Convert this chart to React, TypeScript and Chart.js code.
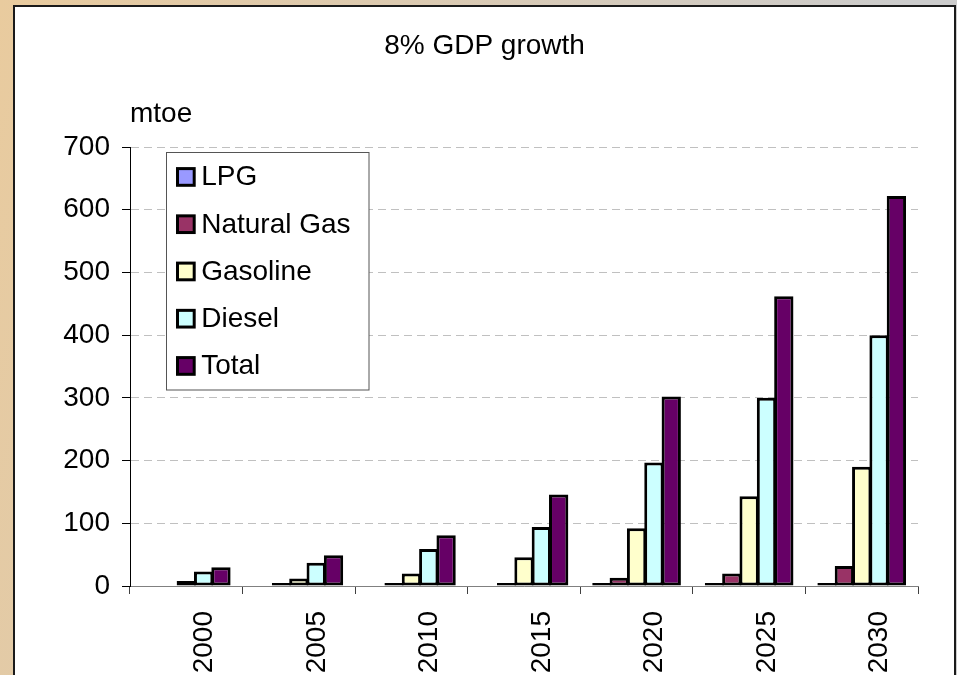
import React, { useEffect, useRef } from "react";
import { Chart, registerables } from "chart.js";

Chart.register(...registerables);

// Transport fuel demand by year, in mtoe
const years = ["2000", "2005", "2010", "2015", "2020", "2025", "2030"];
const lpg = [0, 0, 0, 0, 1, 1, 2];
const naturalGas = [0, 1, 3, 4, 13, 20, 32];
const gasoline = [8, 12, 20, 46, 92, 143, 190];
const diesel = [23, 37, 59, 94, 197, 300, 400];
const total = [30, 49, 81, 146, 302, 462, 622];

const seriesNames = ["LPG", "Natural Gas", "Gasoline", "Diesel", "Total"];
const seriesColors = ["#9999FF", "#993366", "#FFFFCC", "#CCFFFF", "#660066"];
const seriesValues = [lpg, naturalGas, gasoline, diesel, total];

const yMin = 0;
const yMax = 700;
const yStep = 100;

const FONT = "'Liberation Sans', Arial, Helvetica, sans-serif";

// Boxed legend drawn in the upper-left corner of the plot area
const boxedLegend = {
  id: "boxedLegend",
  afterDatasetsDraw(chart: any) {
    const { ctx, chartArea } = chart;
    const x = chartArea.left + 36.5;
    const y = chartArea.top + 5.5;
    const w = 202.5;
    const h = 237.5;
    ctx.save();
    ctx.fillStyle = "#ffffff";
    ctx.fillRect(x, y, w, h);
    ctx.strokeStyle = "#555555";
    ctx.lineWidth = 1;
    ctx.setLineDash([]);
    ctx.strokeRect(x, y, w, h);
    ctx.font = `28px ${FONT}`;
    ctx.textBaseline = "middle";
    ctx.textAlign = "left";
    chart.data.datasets.forEach((ds: any, i: number) => {
      const cy = y + 24.5 + i * 47.25;
      const mx = x + 11;
      ctx.fillStyle = ds.backgroundColor;
      ctx.fillRect(mx, cy - 8.4, 16.7, 16.7);
      ctx.strokeStyle = "#000000";
      ctx.lineWidth = 3;
      ctx.strokeRect(mx, cy - 8.4, 16.7, 16.7);
      ctx.fillStyle = "#000000";
      ctx.fillText(ds.label, x + 34.7, cy + 0.6);
    });
    ctx.restore();
  },
};

export default function App() {
  const canvasRef = useRef<HTMLCanvasElement>(null);

  useEffect(() => {
    if (!canvasRef.current) return;
    const chart = new Chart(canvasRef.current, {
      type: "bar",
      data: {
        labels: years,
        datasets: seriesNames.map((name, i) => ({
          label: name,
          // zero entries get no bar at all
          data: seriesValues[i].map((v) => (v === 0 ? null : v)),
          backgroundColor: seriesColors[i],
          borderColor: "#000000",
          borderWidth: 3,
          borderSkipped: false,
          minBarLength: 3,
          categoryPercentage: 0.77,
          barPercentage: 1.114,
        })),
      },
      options: {
        responsive: false,
        animation: false,
        events: [],
        devicePixelRatio: 1,
        layout: { padding: { left: 14, right: 2, top: 6, bottom: 0 } },
        font: { family: FONT },
        color: "#000000",
        plugins: {
          legend: { display: false },
          tooltip: { enabled: false },
          title: {
            display: true,
            text: "8% GDP growth",
            color: "#000000",
            font: { family: FONT, size: 28, weight: "normal", lineHeight: 1.2 },
            padding: { top: 23.5, bottom: 0 },
          },
          subtitle: {
            display: true,
            text: "mtoe",
            align: "start",
            fullSize: false,
            color: "#000000",
            font: { family: FONT, size: 28, weight: "normal", lineHeight: 1.2 },
            padding: { top: 34.7, bottom: 15.6 },
          },
        },
        scales: {
          x: {
            offset: true,
            grid: {
              display: true,
              offset: true,
              drawOnChartArea: false,
              drawTicks: true,
              tickLength: 8,
              tickColor: "#404040",
            },
            border: { display: true, color: "#808080", width: 1 },
            ticks: {
              color: "#000000",
              font: { family: FONT, size: 28 },
              minRotation: 90,
              maxRotation: 90,
              autoSkip: false,
              padding: 17,
              labelOffset: 18,
            },
            afterFit: (scale: any) => {
              scale.height = 134;
            },
          },
          y: {
            min: yMin,
            max: yMax,
            position: "left",
            grid: {
              color: "#C0C0C0",
              tickColor: "#000000",
              tickLength: 8,
              drawTicks: true,
            },
            border: { display: true, color: "#000000", width: 1, dash: [8, 5] },
            ticks: {
              stepSize: yStep,
              color: "#000000",
              font: { family: FONT, size: 28 },
              padding: 12,
            },
            afterFit: (scale: any) => {
              scale.width = 116;
            },
          },
          spacer: {
            type: "linear",
            position: "right",
            display: true,
            grid: { display: false },
            border: { display: false },
            ticks: { display: false },
            afterFit: (scale: any) => {
              scale.width = 37;
            },
          },
        },
      },
      plugins: [boxedLegend],
    } as any);
    return () => chart.destroy();
  }, []);

  return (
    <div
      style={{
        position: "fixed",
        left: 0,
        top: 0,
        width: 957,
        height: 675,
        overflow: "hidden",
        background: "linear-gradient(105deg, #E9CB9E 0%, #DCCAB0 35%, #CCCCCC 80%)",
      }}
    >
      <div
        style={{
          position: "absolute",
          left: 13,
          top: 5,
          width: 939,
          height: 720,
          background: "#ffffff",
          borderLeft: "2px solid #1a1a1a",
          borderTop: "2px solid #1a1a1a",
          borderRight: "2px solid #1a1a1a",
        }}
      />
      <canvas
        ref={canvasRef}
        width={957}
        height={720}
        style={{ position: "absolute", left: 0, top: 0 }}
      />
    </div>
  );
}
